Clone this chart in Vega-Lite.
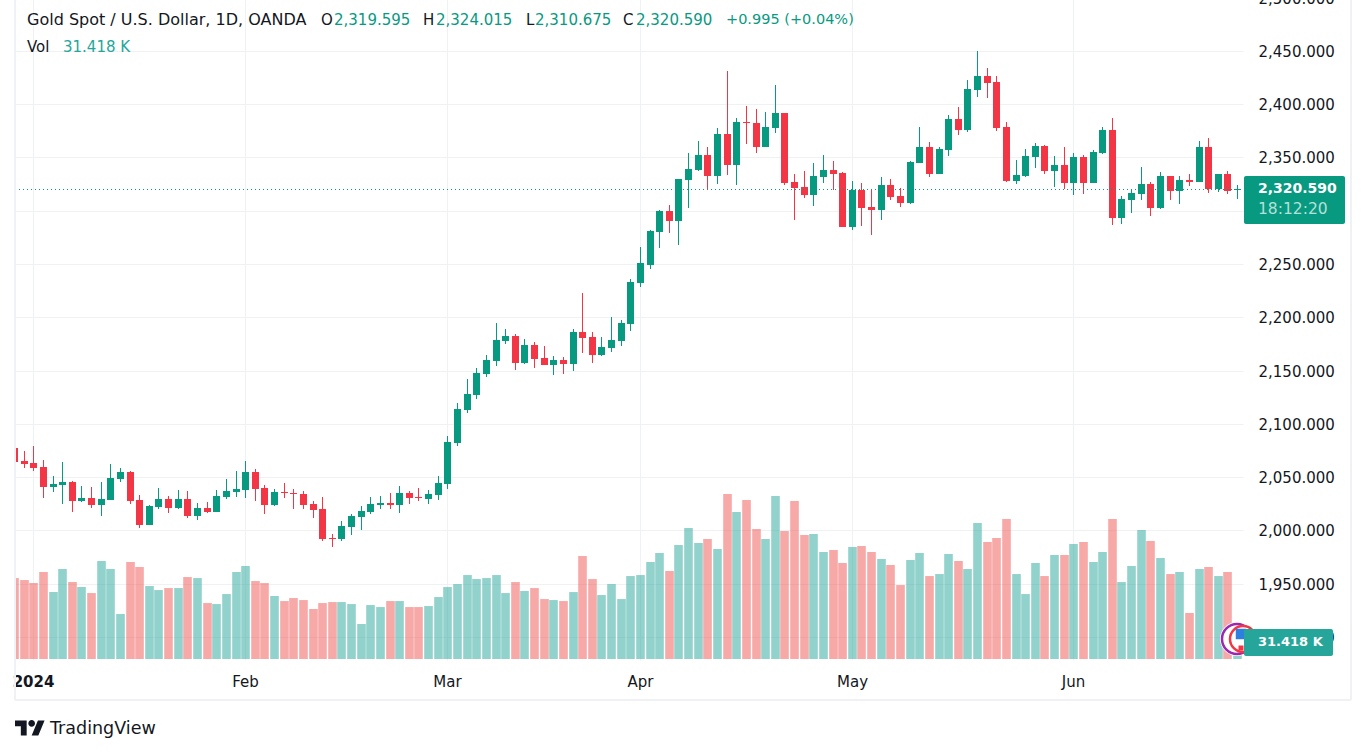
{
  "$schema": "https://vega.github.io/schema/vega-lite/v6.json",
  "width": 1228,
  "height": 687,
  "autosize": "none",
  "padding": {"left": 15, "top": -27, "right": 118, "bottom": 93},
  "background": "white",
  "datasets": {
    "candles": [
      {"date":"2023-12-28","i":0,"o":2077.3,"h":2088,"l":2063,"c":2064.2,"v":153.8,"dir":"down"},
      {"date":"2023-12-29","i":1,"o":2065.1,"h":2074.5,"l":2058.5,"c":2062.3,"v":150.0,"dir":"down"},
      {"date":"2024-01-02","i":2,"o":2063.2,"h":2079.2,"l":2055.7,"c":2058.5,"v":144.3,"dir":"down"},
      {"date":"2024-01-03","i":3,"o":2059.5,"h":2066.0,"l":2030.4,"c":2040.7,"v":165.2,"dir":"down"},
      {"date":"2024-01-04","i":4,"o":2040.7,"h":2051.0,"l":2036.0,"c":2043.5,"v":127.2,"dir":"up"},
      {"date":"2024-01-05","i":5,"o":2042.6,"h":2064.2,"l":2024.7,"c":2045.4,"v":170.9,"dir":"up"},
      {"date":"2024-01-08","i":6,"o":2045.4,"h":2046.3,"l":2017.2,"c":2027.5,"v":146.2,"dir":"down"},
      {"date":"2024-01-09","i":7,"o":2027.5,"h":2041.6,"l":2026.6,"c":2030.4,"v":136.7,"dir":"up"},
      {"date":"2024-01-10","i":8,"o":2030.4,"h":2040.7,"l":2021.0,"c":2023.8,"v":125.3,"dir":"down"},
      {"date":"2024-01-11","i":9,"o":2023.8,"h":2045.4,"l":2013.4,"c":2029.4,"v":186.1,"dir":"up"},
      {"date":"2024-01-12","i":10,"o":2028.5,"h":2062.3,"l":2028.5,"c":2049.1,"v":170.9,"dir":"up"},
      {"date":"2024-01-15","i":11,"o":2048.2,"h":2058.5,"l":2045.4,"c":2054.8,"v":85.5,"dir":"up"},
      {"date":"2024-01-16","i":12,"o":2054.8,"h":2055.7,"l":2024.7,"c":2027.5,"v":184.2,"dir":"down"},
      {"date":"2024-01-17","i":13,"o":2028.5,"h":2033.2,"l":2002.2,"c":2005.0,"v":174.7,"dir":"down"},
      {"date":"2024-01-18","i":14,"o":2005.0,"h":2023.8,"l":2005.0,"c":2022.8,"v":138.6,"dir":"up"},
      {"date":"2024-01-19","i":15,"o":2021.9,"h":2039.7,"l":2020.0,"c":2029.4,"v":131.0,"dir":"up"},
      {"date":"2024-01-22","i":16,"o":2029.4,"h":2032.2,"l":2016.3,"c":2021.0,"v":134.8,"dir":"down"},
      {"date":"2024-01-23","i":17,"o":2021.0,"h":2037.9,"l":2020.0,"c":2029.4,"v":134.8,"dir":"up"},
      {"date":"2024-01-24","i":18,"o":2029.4,"h":2036.9,"l":2011.6,"c":2013.4,"v":155.7,"dir":"down"},
      {"date":"2024-01-25","i":19,"o":2013.4,"h":2025.7,"l":2009.7,"c":2021.0,"v":153.8,"dir":"up"},
      {"date":"2024-01-26","i":20,"o":2021.0,"h":2026.6,"l":2016.3,"c":2017.2,"v":106.3,"dir":"down"},
      {"date":"2024-01-29","i":21,"o":2017.2,"h":2037.9,"l":2017.2,"c":2032.2,"v":104.4,"dir":"up"},
      {"date":"2024-01-30","i":22,"o":2031.3,"h":2048.2,"l":2029.4,"c":2036.9,"v":123.4,"dir":"up"},
      {"date":"2024-01-31","i":23,"o":2036.0,"h":2055.7,"l":2031.3,"c":2038.8,"v":165.2,"dir":"up"},
      {"date":"2024-02-01","i":24,"o":2037.9,"h":2065.1,"l":2030.4,"c":2054.8,"v":176.6,"dir":"up"},
      {"date":"2024-02-02","i":25,"o":2054.8,"h":2057.6,"l":2027.5,"c":2038.8,"v":148.1,"dir":"down"},
      {"date":"2024-02-05","i":26,"o":2039.7,"h":2042.6,"l":2015.3,"c":2023.8,"v":144.3,"dir":"down"},
      {"date":"2024-02-06","i":27,"o":2023.8,"h":2038.8,"l":2022.8,"c":2036.0,"v":119.6,"dir":"up"},
      {"date":"2024-02-07","i":28,"o":2036.0,"h":2044.4,"l":2030.4,"c":2035.0,"v":110.1,"dir":"down"},
      {"date":"2024-02-08","i":29,"o":2035.0,"h":2038.8,"l":2020.0,"c":2034.1,"v":115.8,"dir":"down"},
      {"date":"2024-02-09","i":30,"o":2034.1,"h":2036.9,"l":2020.0,"c":2023.8,"v":112.0,"dir":"down"},
      {"date":"2024-02-12","i":31,"o":2024.7,"h":2027.5,"l":2011.6,"c":2019.1,"v":95.0,"dir":"down"},
      {"date":"2024-02-13","i":32,"o":2020.0,"h":2031.3,"l":1990.0,"c":1991.9,"v":106.3,"dir":"down"},
      {"date":"2024-02-14","i":33,"o":1992.8,"h":1996.5,"l":1984.3,"c":1991.9,"v":108.2,"dir":"down"},
      {"date":"2024-02-15","i":34,"o":1991.9,"h":2008.8,"l":1990.0,"c":2004.1,"v":108.2,"dir":"up"},
      {"date":"2024-02-16","i":35,"o":2003.1,"h":2015.3,"l":1995.6,"c":2013.4,"v":104.4,"dir":"up"},
      {"date":"2024-02-19","i":36,"o":2012.5,"h":2022.8,"l":2000.3,"c":2018.1,"v":66.5,"dir":"up"},
      {"date":"2024-02-20","i":37,"o":2017.2,"h":2031.3,"l":2015.3,"c":2024.7,"v":102.5,"dir":"up"},
      {"date":"2024-02-21","i":38,"o":2023.8,"h":2032.2,"l":2020.0,"c":2025.7,"v":98.7,"dir":"up"},
      {"date":"2024-02-22","i":39,"o":2025.7,"h":2035.0,"l":2020.0,"c":2023.8,"v":110.1,"dir":"down"},
      {"date":"2024-02-23","i":40,"o":2023.8,"h":2041.6,"l":2016.3,"c":2035.0,"v":110.1,"dir":"up"},
      {"date":"2024-02-26","i":41,"o":2035.0,"h":2036.9,"l":2024.7,"c":2030.4,"v":98.7,"dir":"down"},
      {"date":"2024-02-27","i":42,"o":2031.3,"h":2039.7,"l":2027.5,"c":2030.4,"v":98.7,"dir":"down"},
      {"date":"2024-02-28","i":43,"o":2029.4,"h":2037.9,"l":2024.7,"c":2034.1,"v":100.6,"dir":"up"},
      {"date":"2024-02-29","i":44,"o":2033.2,"h":2051.0,"l":2028.5,"c":2044.4,"v":117.7,"dir":"up"},
      {"date":"2024-03-01","i":45,"o":2043.4,"h":2088.5,"l":2038.8,"c":2082.9,"v":136.7,"dir":"up"},
      {"date":"2024-03-04","i":46,"o":2082.0,"h":2119.5,"l":2079.1,"c":2113.9,"v":142.4,"dir":"up"},
      {"date":"2024-03-05","i":47,"o":2112.9,"h":2142.0,"l":2110.1,"c":2128.0,"v":159.5,"dir":"up"},
      {"date":"2024-03-06","i":48,"o":2127.0,"h":2152.4,"l":2123.3,"c":2147.7,"v":151.9,"dir":"up"},
      {"date":"2024-03-07","i":49,"o":2146.7,"h":2164.6,"l":2143.9,"c":2159.9,"v":153.8,"dir":"up"},
      {"date":"2024-03-08","i":50,"o":2158.9,"h":2194.6,"l":2154.2,"c":2178.7,"v":159.5,"dir":"up"},
      {"date":"2024-03-11","i":51,"o":2177.7,"h":2189.0,"l":2174.9,"c":2182.4,"v":125.3,"dir":"up"},
      {"date":"2024-03-12","i":52,"o":2182.4,"h":2184.3,"l":2150.5,"c":2157.1,"v":146.2,"dir":"down"},
      {"date":"2024-03-13","i":53,"o":2157.1,"h":2179.6,"l":2156.1,"c":2174.0,"v":129.1,"dir":"up"},
      {"date":"2024-03-14","i":54,"o":2174.0,"h":2176.8,"l":2152.4,"c":2160.8,"v":134.8,"dir":"down"},
      {"date":"2024-03-15","i":55,"o":2161.8,"h":2173.0,"l":2155.2,"c":2155.2,"v":113.9,"dir":"down"},
      {"date":"2024-03-18","i":56,"o":2155.2,"h":2163.6,"l":2145.8,"c":2159.9,"v":112.0,"dir":"up"},
      {"date":"2024-03-19","i":57,"o":2159.9,"h":2162.7,"l":2146.7,"c":2156.1,"v":110.1,"dir":"down"},
      {"date":"2024-03-20","i":58,"o":2156.1,"h":2189.0,"l":2149.6,"c":2186.2,"v":127.2,"dir":"up"},
      {"date":"2024-03-21","i":59,"o":2186.2,"h":2222.8,"l":2166.5,"c":2180.5,"v":195.6,"dir":"down"},
      {"date":"2024-03-22","i":60,"o":2181.5,"h":2186.2,"l":2157.1,"c":2164.6,"v":151.9,"dir":"down"},
      {"date":"2024-03-25","i":61,"o":2164.6,"h":2181.5,"l":2163.6,"c":2172.1,"v":121.5,"dir":"up"},
      {"date":"2024-03-26","i":62,"o":2171.1,"h":2200.3,"l":2167.4,"c":2178.7,"v":142.4,"dir":"up"},
      {"date":"2024-03-27","i":63,"o":2177.7,"h":2197.4,"l":2173.0,"c":2194.6,"v":113.9,"dir":"up"},
      {"date":"2024-03-28","i":64,"o":2193.7,"h":2236.0,"l":2187.1,"c":2233.1,"v":157.6,"dir":"up"},
      {"date":"2024-04-01","i":65,"o":2232.2,"h":2266.0,"l":2228.4,"c":2251.0,"v":159.5,"dir":"up"},
      {"date":"2024-04-02","i":66,"o":2249.1,"h":2282.0,"l":2245.4,"c":2281.0,"v":184.2,"dir":"up"},
      {"date":"2024-04-03","i":67,"o":2280.1,"h":2300.8,"l":2265.1,"c":2299.8,"v":201.3,"dir":"up"},
      {"date":"2024-04-04","i":68,"o":2299.8,"h":2305.4,"l":2279.2,"c":2290.4,"v":167.1,"dir":"down"},
      {"date":"2024-04-05","i":69,"o":2290.4,"h":2329.9,"l":2267.9,"c":2329.9,"v":216.5,"dir":"up"},
      {"date":"2024-04-08","i":70,"o":2328.9,"h":2354.3,"l":2302.6,"c":2339.2,"v":248.8,"dir":"up"},
      {"date":"2024-04-09","i":71,"o":2338.3,"h":2365.5,"l":2337.4,"c":2352.4,"v":220.3,"dir":"up"},
      {"date":"2024-04-10","i":72,"o":2352.4,"h":2359.9,"l":2319.5,"c":2332.7,"v":227.9,"dir":"down"},
      {"date":"2024-04-11","i":73,"o":2332.7,"h":2377.7,"l":2325.2,"c":2372.1,"v":208.9,"dir":"up"},
      {"date":"2024-04-12","i":74,"o":2372.1,"h":2431.3,"l":2333.6,"c":2343.0,"v":313.3,"dir":"down"},
      {"date":"2024-04-15","i":75,"o":2343.0,"h":2387.1,"l":2324.2,"c":2383.4,"v":279.2,"dir":"up"},
      {"date":"2024-04-16","i":76,"o":2383.4,"h":2398.4,"l":2362.7,"c":2382.4,"v":301.9,"dir":"down"},
      {"date":"2024-04-17","i":77,"o":2382.4,"h":2395.6,"l":2354.3,"c":2359.9,"v":246.9,"dir":"down"},
      {"date":"2024-04-18","i":78,"o":2359.9,"h":2392.8,"l":2359.9,"c":2378.7,"v":227.9,"dir":"up"},
      {"date":"2024-04-19","i":79,"o":2377.7,"h":2418.1,"l":2373.1,"c":2391.8,"v":309.5,"dir":"up"},
      {"date":"2024-04-22","i":80,"o":2391.8,"h":2391.8,"l":2324.2,"c":2326.1,"v":243.1,"dir":"down"},
      {"date":"2024-04-23","i":81,"o":2327.0,"h":2334.6,"l":2291.4,"c":2321.4,"v":300.0,"dir":"down"},
      {"date":"2024-04-24","i":82,"o":2322.3,"h":2337.4,"l":2312.0,"c":2314.8,"v":235.5,"dir":"down"},
      {"date":"2024-04-25","i":83,"o":2314.8,"h":2344.9,"l":2304.5,"c":2332.7,"v":237.4,"dir":"up"},
      {"date":"2024-04-26","i":84,"o":2331.7,"h":2352.4,"l":2326.1,"c":2338.3,"v":203.2,"dir":"up"},
      {"date":"2024-04-29","i":85,"o":2338.2,"h":2346.7,"l":2319.4,"c":2334.5,"v":207.0,"dir":"down"},
      {"date":"2024-04-30","i":86,"o":2335.4,"h":2336.4,"l":2284.7,"c":2284.7,"v":182.3,"dir":"down"},
      {"date":"2024-05-01","i":87,"o":2284.7,"h":2327.9,"l":2281.9,"c":2319.4,"v":212.7,"dir":"up"},
      {"date":"2024-05-02","i":88,"o":2319.4,"h":2326.0,"l":2285.6,"c":2302.5,"v":214.6,"dir":"down"},
      {"date":"2024-05-03","i":89,"o":2303.5,"h":2320.4,"l":2277.2,"c":2300.7,"v":203.2,"dir":"down"},
      {"date":"2024-05-06","i":90,"o":2300.7,"h":2331.7,"l":2291.3,"c":2324.1,"v":189.9,"dir":"up"},
      {"date":"2024-05-07","i":91,"o":2324.1,"h":2329.8,"l":2310.1,"c":2312.9,"v":178.5,"dir":"down"},
      {"date":"2024-05-08","i":92,"o":2313.8,"h":2321.3,"l":2303.5,"c":2307.2,"v":140.5,"dir":"down"},
      {"date":"2024-05-09","i":93,"o":2307.2,"h":2346.7,"l":2306.3,"c":2345.7,"v":188.0,"dir":"up"},
      {"date":"2024-05-10","i":94,"o":2344.8,"h":2378.6,"l":2344.8,"c":2359.8,"v":201.3,"dir":"up"},
      {"date":"2024-05-13","i":95,"o":2359.8,"h":2364.5,"l":2331.7,"c":2334.5,"v":157.6,"dir":"down"},
      {"date":"2024-05-14","i":96,"o":2334.5,"h":2359.8,"l":2334.5,"c":2358.0,"v":161.4,"dir":"up"},
      {"date":"2024-05-15","i":97,"o":2357.0,"h":2389.9,"l":2351.4,"c":2386.1,"v":199.4,"dir":"up"},
      {"date":"2024-05-16","i":98,"o":2386.1,"h":2397.4,"l":2371.1,"c":2375.8,"v":186.1,"dir":"down"},
      {"date":"2024-05-17","i":99,"o":2375.8,"h":2422.7,"l":2373.9,"c":2414.3,"v":170.9,"dir":"up"},
      {"date":"2024-05-20","i":100,"o":2413.4,"h":2450.0,"l":2406.8,"c":2426.5,"v":258.3,"dir":"up"},
      {"date":"2024-05-21","i":101,"o":2426.5,"h":2434.0,"l":2405.8,"c":2419.9,"v":222.2,"dir":"down"},
      {"date":"2024-05-22","i":102,"o":2420.9,"h":2426.5,"l":2374.9,"c":2377.7,"v":229.8,"dir":"down"},
      {"date":"2024-05-23","i":103,"o":2378.6,"h":2383.3,"l":2327.0,"c":2327.9,"v":265.9,"dir":"down"},
      {"date":"2024-05-24","i":104,"o":2327.9,"h":2347.6,"l":2325.1,"c":2333.5,"v":161.4,"dir":"up"},
      {"date":"2024-05-27","i":105,"o":2332.6,"h":2357.9,"l":2331.7,"c":2351.4,"v":123.4,"dir":"up"},
      {"date":"2024-05-28","i":106,"o":2350.4,"h":2363.6,"l":2340.1,"c":2360.8,"v":182.3,"dir":"up"},
      {"date":"2024-05-29","i":107,"o":2360.8,"h":2361.7,"l":2334.5,"c":2337.3,"v":157.6,"dir":"down"},
      {"date":"2024-05-30","i":108,"o":2337.3,"h":2351.4,"l":2322.3,"c":2343.0,"v":197.5,"dir":"up"},
      {"date":"2024-05-31","i":109,"o":2343.0,"h":2359.9,"l":2320.4,"c":2326.1,"v":197.5,"dir":"down"},
      {"date":"2024-06-03","i":110,"o":2326.1,"h":2354.2,"l":2314.8,"c":2350.5,"v":218.4,"dir":"up"},
      {"date":"2024-06-04","i":111,"o":2350.5,"h":2352.3,"l":2315.7,"c":2326.1,"v":222.2,"dir":"down"},
      {"date":"2024-06-05","i":112,"o":2326.1,"h":2357.0,"l":2326.1,"c":2355.2,"v":184.2,"dir":"up"},
      {"date":"2024-06-06","i":113,"o":2354.2,"h":2378.6,"l":2353.3,"c":2375.8,"v":203.2,"dir":"up"},
      {"date":"2024-06-07","i":114,"o":2375.8,"h":2387.1,"l":2286.6,"c":2293.2,"v":265.9,"dir":"down"},
      {"date":"2024-06-10","i":115,"o":2293.2,"h":2313.8,"l":2287.5,"c":2311.0,"v":146.2,"dir":"up"},
      {"date":"2024-06-11","i":116,"o":2310.1,"h":2320.4,"l":2297.9,"c":2316.7,"v":176.6,"dir":"up"},
      {"date":"2024-06-12","i":117,"o":2315.7,"h":2341.1,"l":2310.1,"c":2325.1,"v":245.0,"dir":"up"},
      {"date":"2024-06-13","i":118,"o":2325.1,"h":2327.0,"l":2295.1,"c":2302.6,"v":224.1,"dir":"down"},
      {"date":"2024-06-14","i":119,"o":2302.6,"h":2336.4,"l":2301.6,"c":2332.6,"v":191.8,"dir":"up"},
      {"date":"2024-06-17","i":120,"o":2332.6,"h":2332.6,"l":2310.1,"c":2318.5,"v":161.4,"dir":"down"},
      {"date":"2024-06-18","i":121,"o":2318.5,"h":2332.6,"l":2306.3,"c":2328.9,"v":165.2,"dir":"up"},
      {"date":"2024-06-19","i":122,"o":2328.9,"h":2334.5,"l":2323.2,"c":2327.0,"v":87.4,"dir":"down"},
      {"date":"2024-06-20","i":123,"o":2327.0,"h":2365.5,"l":2327.0,"c":2359.9,"v":170.9,"dir":"up"},
      {"date":"2024-06-21","i":124,"o":2359.9,"h":2368.3,"l":2316.7,"c":2320.4,"v":174.7,"dir":"down"},
      {"date":"2024-06-24","i":125,"o":2320.4,"h":2334.5,"l":2317.6,"c":2334.5,"v":157.6,"dir":"up"},
      {"date":"2024-06-25","i":126,"o":2334.5,"h":2337.3,"l":2315.7,"c":2318.5,"v":165.2,"dir":"down"},
      {"date":"2024-06-26","i":127,"o":2319.595,"h":2324.015,"l":2310.675,"c":2320.59,"v":31.418,"dir":"up"}
    ]
  },
  "layer": [
    {
      "data": {"name": "candles"},
      "mark": {"type": "bar", "size": 8.6, "xOffset": 0.5, "opacity": 0.5, "clip": true, "orient": "vertical"},
      "encoding": {
        "x": {
          "field": "i",
          "type": "quantitative",
          "scale": {"domain": [0.1, 127.62], "padding": 0, "round": true, "nice": false, "zero": false},
          "axis": {
            "title": null,
            "values": [2, 24, 45, 65, 87, 110],
            "labelExpr": "datum.value == 2 ? '2024' : datum.value == 24 ? 'Feb' : datum.value == 45 ? 'Mar' : datum.value == 65 ? 'Apr' : datum.value == 87 ? 'May' : 'Jun'",
            "labelFontWeight": {"condition": {"test": "datum.value == 2", "value": "bold"}, "value": "normal"},
            "labelPadding": 14,
            "labelFlush": false,
            "labelOverlap": false,
            "domain": false,
            "ticks": false,
            "grid": true,
            "gridColor": "#f0f1f5"
          }
        },
        "y": {"field": "v", "type": "quantitative", "scale": {"domain": [-1.9, 1303.4], "nice": false, "zero": false}, "axis": null},
        "color": {"field": "dir", "type": "nominal", "scale": {"domain": ["up", "down"], "range": ["#26a69a", "#ef5350"]}, "legend": null}
      }
    },
    {
      "layer": [
        {
          "data": {"name": "candles"},
          "mark": {"type": "rule", "strokeWidth": 1, "xOffset": 0.5, "clip": true},
          "encoding": {
            "x": {"field": "i", "type": "quantitative"},
            "y": {
              "field": "h",
              "type": "quantitative",
              "scale": {"domain": [1878.2, 2523.2], "nice": false, "zero": false, "round": true},
              "axis": {
                "title": null,
                "orient": "right",
                "values": [1900, 1950, 2000, 2050, 2100, 2150, 2200, 2250, 2300, 2350, 2400, 2450, 2500],
                "format": ",.3f",
                "labelPadding": 15,
                "labelOverlap": false,
                "labelBound": false,
                "domain": false,
                "ticks": false,
                "grid": true,
                "gridColor": "#f0f1f5"
              }
            },
            "y2": {"field": "l"},
            "color": {"field": "dir", "type": "nominal", "scale": {"domain": ["up", "down"], "range": ["#089981", "#f23645"]}, "legend": null}
          }
        },
        {
          "data": {"name": "candles"},
          "mark": {"type": "bar", "size": 7, "xOffset": 0.5, "clip": true, "orient": "vertical"},
          "encoding": {
            "x": {"field": "i", "type": "quantitative"},
            "y": {"field": "o", "type": "quantitative"},
            "y2": {"field": "c"},
            "color": {"field": "dir", "type": "nominal", "legend": null}
          }
        },
        {
          "data": {"values": [{"k": 1}]},
          "mark": {"type": "rule", "color": "#089981", "strokeWidth": 1, "strokeDash": [1, 3], "yOffset": 0.5},
          "encoding": {"y": {"datum": 2320.59}, "x": {"datum": 0.1}, "x2": {"datum": 127.62}}
        },
        {
          "data": {"values": [{"k": 1}]},
          "mark": {"type": "rule", "color": "#f0f1f5", "strokeWidth": 2},
          "encoding": {"x": {"datum": 0.1}, "y": {"datum": 2523.2}, "y2": {"datum": 1840.7}}
        },
        {
          "data": {"values": [{"k": 1}]},
          "mark": {"type": "rule", "color": "#f0f1f5", "strokeWidth": 2},
          "encoding": {"x": {"datum": 138.88}, "y": {"datum": 2523.2}, "y2": {"datum": 1840.7}}
        },
        {
          "data": {"values": [{"k": 1}]},
          "mark": {"type": "rule", "color": "#f0f1f5", "strokeWidth": 2},
          "encoding": {"x": {"datum": 0.1}, "x2": {"datum": 138.88}, "y": {"datum": 1840.7}}
        },
        {
          "data": {"values": [{"k": 1}]},
          "mark": {"type": "point", "filled": true, "color": "white", "opacity": 1, "size": 1156},
          "encoding": {"x": {"datum": 127}, "y": {"datum": 1897.9}}
        },
        {
          "data": {"values": [{"k": 1}]},
          "mark": {"type": "point", "filled": false, "stroke": "#9c27b0", "strokeWidth": 2.5, "opacity": 1, "size": 900},
          "encoding": {"x": {"datum": 127}, "y": {"datum": 1897.9}}
        },
        {
          "data": {"values": [{"k": 1}]},
          "mark": {"type": "point", "filled": true, "color": "white", "stroke": "#f23645", "strokeWidth": 2.5, "opacity": 1, "size": 676},
          "encoding": {"x": {"datum": 127.62}, "y": {"datum": 1897.9}}
        },
        {
          "data": {"values": [{"k": 1}]},
          "mark": {"type": "point", "shape": "square", "filled": true, "color": "#2d7fe0", "opacity": 1, "size": 110},
          "encoding": {"x": {"datum": 127.4}, "y": {"datum": 1902.6}}
        },
        {
          "data": {"values": [{"k": 1}]},
          "mark": {"type": "point", "shape": "square", "filled": true, "color": "#f23645", "opacity": 1, "size": 25},
          "encoding": {"x": {"datum": 127.4}, "y": {"datum": 1889.5}}
        },
        {
          "data": {"values": [{"k": 1}]},
          "mark": {"type": "rect", "color": "#089981", "cornerRadius": 2},
          "encoding": {"x": {"datum": 127.72}, "x2": {"datum": 138.21}, "y": {"datum": 2332.65}, "y2": {"datum": 2287.6}}
        },
        {
          "data": {"values": [{"k": 1}]},
          "mark": {"type": "rect", "color": "#26a69a", "cornerRadius": 2},
          "encoding": {"x": {"datum": 127.72}, "x2": {"datum": 136.96}, "y": {"datum": 1907.3}, "y2": {"datum": 1882.0}}
        },
        {
          "data": {"values": [{"k": 1}]},
          "mark": {"type": "text", "text": "2,320.590", "align": "left", "color": "white", "fontWeight": "bold", "fontSize": 14},
          "encoding": {"x": {"datum": 129.17}, "y": {"datum": 2320.5}}
        },
        {
          "data": {"values": [{"k": 1}]},
          "mark": {"type": "text", "text": "18:12:20", "align": "left", "color": "#b5e0d9", "fontSize": 15.5},
          "encoding": {"x": {"datum": 129.17}, "y": {"datum": 2301.7}}
        },
        {
          "data": {"values": [{"k": 1}]},
          "mark": {"type": "text", "text": "31.418 K", "align": "left", "color": "white", "fontWeight": "bold", "fontSize": 13},
          "encoding": {"x": {"datum": 129.17}, "y": {"datum": 1894.7}}
        },
        {
          "data": {"values": [{"k": 1}]},
          "mark": {"type": "text", "text": "Gold Spot / U.S. Dollar, 1D, OANDA", "align": "left", "color": "#131722", "fontSize": 16},
          "encoding": {"x": {"datum": 1.35}, "y": {"datum": 2478.7}}
        },
        {
          "data": {"values": [{"k": 1}]},
          "mark": {"type": "text", "text": "O", "align": "left", "color": "#131722"},
          "encoding": {"x": {"datum": 31.88}, "y": {"datum": 2478.7}}
        },
        {
          "data": {"values": [{"k": 1}]},
          "mark": {"type": "text", "text": "2,319.595", "align": "left", "color": "#089981"},
          "encoding": {"x": {"datum": 33.23}, "y": {"datum": 2478.7}}
        },
        {
          "data": {"values": [{"k": 1}]},
          "mark": {"type": "text", "text": "H", "align": "left", "color": "#131722"},
          "encoding": {"x": {"datum": 42.47}, "y": {"datum": 2478.7}}
        },
        {
          "data": {"values": [{"k": 1}]},
          "mark": {"type": "text", "text": "2,324.015", "align": "left", "color": "#089981"},
          "encoding": {"x": {"datum": 43.82}, "y": {"datum": 2478.7}}
        },
        {
          "data": {"values": [{"k": 1}]},
          "mark": {"type": "text", "text": "L", "align": "left", "color": "#131722"},
          "encoding": {"x": {"datum": 53.15}, "y": {"datum": 2478.7}}
        },
        {
          "data": {"values": [{"k": 1}]},
          "mark": {"type": "text", "text": "2,310.675", "align": "left", "color": "#089981"},
          "encoding": {"x": {"datum": 54.08}, "y": {"datum": 2478.7}}
        },
        {
          "data": {"values": [{"k": 1}]},
          "mark": {"type": "text", "text": "C", "align": "left", "color": "#131722"},
          "encoding": {"x": {"datum": 63.22}, "y": {"datum": 2478.7}}
        },
        {
          "data": {"values": [{"k": 1}]},
          "mark": {"type": "text", "text": "2,320.590", "align": "left", "color": "#089981"},
          "encoding": {"x": {"datum": 64.57}, "y": {"datum": 2478.7}}
        },
        {
          "data": {"values": [{"k": 1}]},
          "mark": {"type": "text", "text": "+0.995 (+0.04%)", "align": "left", "color": "#089981", "fontSize": 14.5},
          "encoding": {"x": {"datum": 73.92}, "y": {"datum": 2478.7}}
        },
        {
          "data": {"values": [{"k": 1}]},
          "mark": {"type": "text", "text": "Vol", "align": "left", "color": "#131722"},
          "encoding": {"x": {"datum": 1.35}, "y": {"datum": 2453.8}}
        },
        {
          "data": {"values": [{"k": 1}]},
          "mark": {"type": "text", "text": "31.418 K", "align": "left", "color": "#26a69a"},
          "encoding": {"x": {"datum": 5.08}, "y": {"datum": 2453.8}}
        },
        {
          "data": {"values": [{"k": 1}]},
          "mark": {
            "type": "point",
            "filled": true,
            "color": "#131722",
            "opacity": 1,
            "size": 900,
            "shape": "M-1 -0.5H-0.222V0.5H-0.611V-0.111H-1ZM0.111 0.5L0.528 -0.5H0.972L0.556 0.5ZM-0.111 -0.306a0.222 0.222 0 1 0 0.444 0a0.222 0.222 0 1 0 -0.444 0Z"
          },
          "encoding": {"x": {"datum": 1.66}, "y": {"datum": 1814.4}}
        },
        {
          "data": {"values": [{"k": 1}]},
          "mark": {"type": "text", "text": "TradingView", "align": "left", "color": "#131722", "fontSize": 17.5},
          "encoding": {"x": {"datum": 3.73}, "y": {"datum": 1813.5}}
        }
      ]
    }
  ],
  "resolve": {"scale": {"y": "independent", "color": "independent"}},
  "config": {
    "view": {"stroke": null},
    "text": {"font": "DejaVu Sans", "fontSize": 15},
    "axis": {"labelFont": "DejaVu Sans", "labelFontSize": 15, "labelColor": "#131722"}
  }
}
